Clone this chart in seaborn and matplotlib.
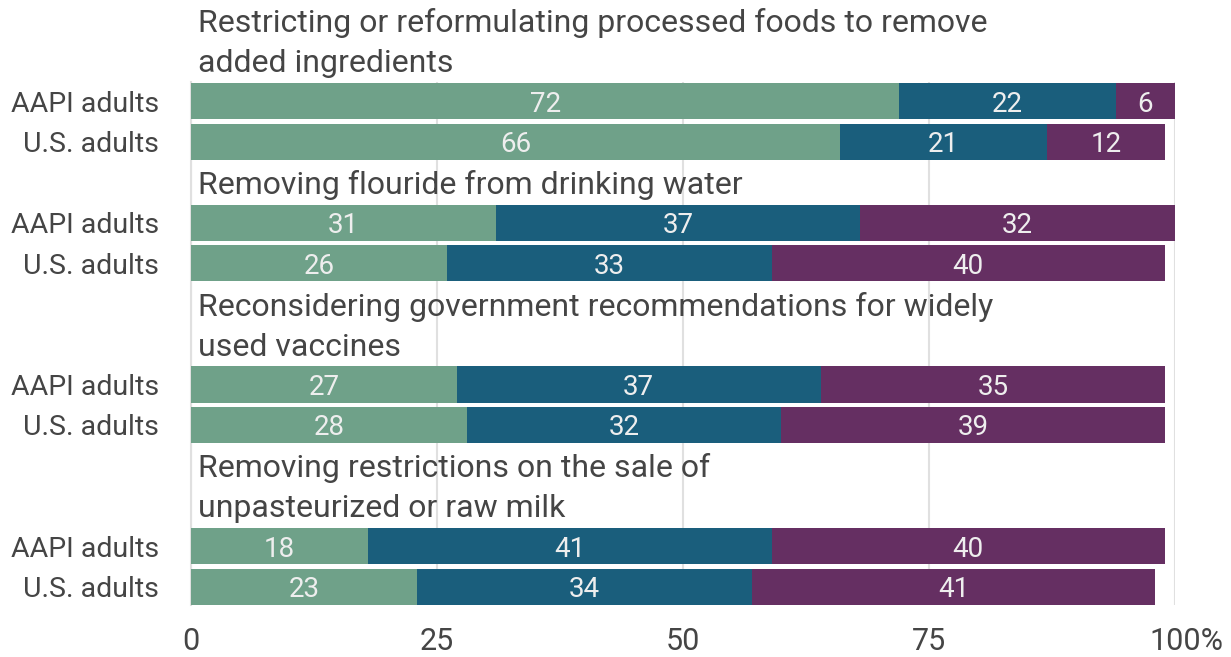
import numpy as np
import pandas as pd
import matplotlib
matplotlib.use("Agg")
import matplotlib.pyplot as plt
import matplotlib.transforms as mtransforms
import seaborn as sns

# Survey responses (percent), one list per answer option
topics = [
    ["Restricting or reformulating processed foods to remove", "added ingredients"],
    ["Removing flouride from drinking water"],
    ["Reconsidering government recommendations for widely", "used vaccines"],
    ["Removing restrictions on the sale of", "unpasteurized or raw milk"],
]
groups = ["AAPI adults", "U.S. adults"]
favor = [72, 66, 31, 26, 27, 28, 18, 23]
neither = [22, 21, 37, 33, 37, 32, 41, 34]
oppose = [6, 12, 32, 40, 35, 39, 40, 41]
x_ticks = [0, 25, 50, 75, 100]
x_tick_labels = ["0", "25", "50", "75", "100%"]

colors = {"favor": "#6fa189", "neither": "#1a5e7c", "oppose": "#652f62"}
text_dark = "#454545"
label_light = "#eeeeee"

# Build row order: heading lines followed by the two group rows per topic
rows, row_kind, row_text = [], [], []
records = []
k = 0
for t, lines in enumerate(topics):
    for j, line in enumerate(lines):
        rid = f"h{t}_{j}"
        rows.append(rid); row_kind.append("head"); row_text.append(line)
    for g in groups:
        rid = f"r{t}_{g}"
        rows.append(rid); row_kind.append("bar"); row_text.append(g)
        records.append({"row": rid, "favor": favor[k], "neither": neither[k], "oppose": oppose[k]})
        k += 1

df = pd.DataFrame(records)
df["c1"] = df["favor"]
df["c2"] = df["favor"] + df["neither"]
df["c3"] = df["favor"] + df["neither"] + df["oppose"]

sns.set_theme(style="white")
plt.rcParams["font.family"] = ["Roboto", "DejaVu Sans"]

W, H = 1231, 657
fig = plt.figure(figsize=(W / 100, H / 100), dpi=100)
ax = fig.add_axes([191 / W, 1 - 605 / H, (1175 - 191) / W, (605 - 82) / H])

bw = 0.89
# Stacked bars: draw cumulative totals from the widest down
for col, key in [("c3", "oppose"), ("c2", "neither"), ("c1", "favor")]:
    sns.barplot(data=df, y="row", x=col, order=rows, orient="h", color=colors[key],
                width=bw, saturation=1, linewidth=0, ax=ax, zorder=3)

# Segment value labels
pos = {r: i for i, r in enumerate(rows)}
for _, r in df.iterrows():
    y = pos[r["row"]]
    start = 0
    for key in ["favor", "neither", "oppose"]:
        v = r[key]
        ax.text(start + v / 2, y, f"{v}", ha="center", va="center_baseline",
                color=label_light, fontsize=20, zorder=5)
        start += v

# Topic headings drawn on their own rows
for i, (kind, txt) in enumerate(zip(row_kind, row_text)):
    if kind == "head":
        ax.text(0.7, i, txt, ha="left", va="center_baseline", color=text_dark,
                fontsize=23, clip_on=False, zorder=5)

bar_idx = [i for i, kd in enumerate(row_kind) if kd == "bar"]
ax.set_yticks(bar_idx)
ax.set_yticklabels([row_text[i] for i in bar_idx])
ax.tick_params(axis="y", length=0, pad=23, labelsize=20.5, labelcolor=text_dark)
ax.set_ylabel("")
ax.set_xlabel("")

ax.set_xticks(x_ticks)
ax.set_xticklabels(x_tick_labels)
ax.tick_params(axis="x", length=0, pad=16, labelsize=22, labelcolor=text_dark)
last = ax.get_xticklabels()[-1]
last.set_horizontalalignment("left")
last.set_transform(last.get_transform() + mtransforms.ScaledTranslation(-25.8 / 100, 0, fig.dpi_scale_trans))

ax.set_xlim(0, 100)
ax.set_ylim(14 + 18 / 40.36, 2 - 19 / 40.36)

ax.grid(axis="x", color="#e0e0e0", linewidth=1.5, zorder=0)
ax.set_axisbelow(True)
for s in ["top", "right", "bottom"]:
    ax.spines[s].set_visible(False)
ax.spines["left"].set_color("#e0e0e0")
ax.spines["left"].set_linewidth(1.5)

fig.savefig("out.png", dpi=100, facecolor="white")
